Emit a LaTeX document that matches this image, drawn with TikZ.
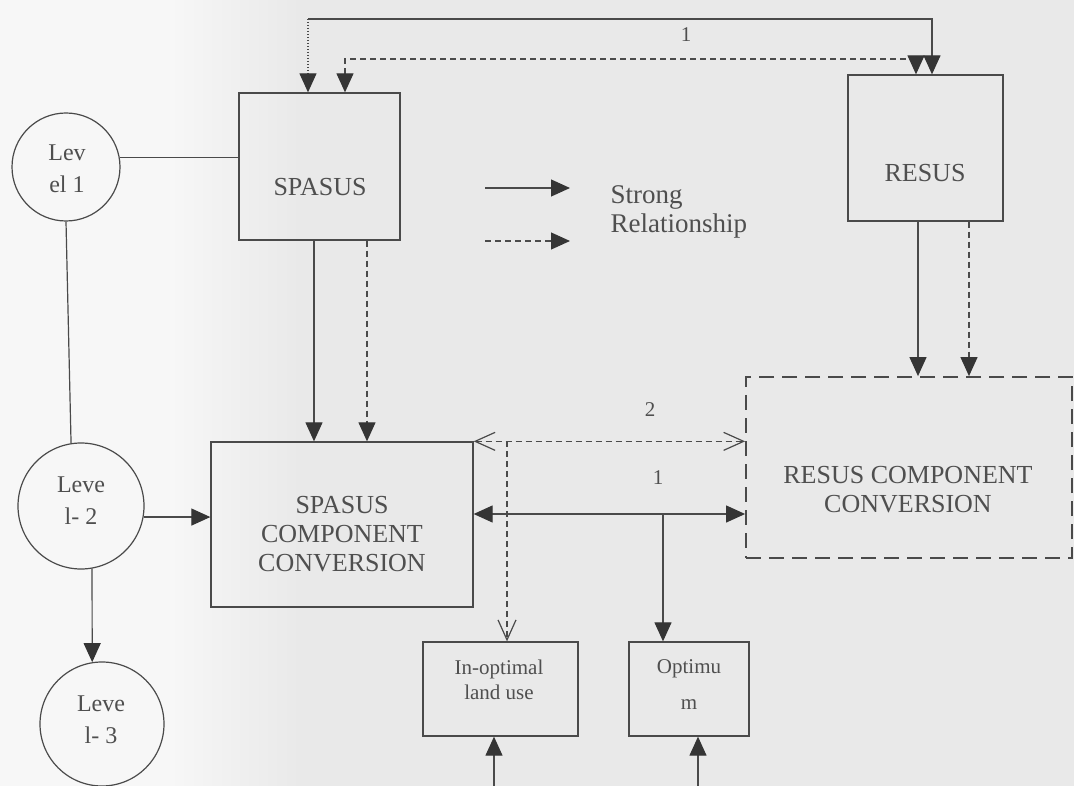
\documentclass[tikz,border=0pt]{standalone}
\usepackage{fontspec}
\setmainfont{Liberation Serif}
\usetikzlibrary{arrows.meta}
\definecolor{ink}{HTML}{4A4A4A}
\definecolor{tipc}{HTML}{353535}
\definecolor{txt}{HTML}{4F4F4F}
\definecolor{paper}{HTML}{E9E9E9}
\definecolor{paperL}{HTML}{F7F7F7}
\begin{document}
\begin{tikzpicture}[x=1pt,y=-1pt,
  line width=1.2pt, draw=ink,
  tri/.tip={Triangle[length=19pt,width=17pt,color=tipc]},
  barb/.tip={Straight Barb[length=20pt,width=18pt,line width=1.2pt]},
  box/.style={draw=ink,line width=1.3pt,inner sep=0pt},
  dbox/.style={draw=ink,line width=1.8pt,inner sep=0pt,dash pattern=on 15pt off 8pt},
  lvl/.style={draw=ink,circle,line width=1.2pt,inner sep=0pt},
  big/.style={text=txt,font=\fontsize{26}{29}\selectfont,align=center,inner sep=0pt},
  lvltxt/.style={text=txt,font=\fontsize{24}{32}\selectfont,align=center,inner sep=0pt},
  small/.style={text=txt,font=\fontsize{21}{25}\selectfont,align=center,inner sep=0pt},
  num/.style={text=txt,font=\fontsize{21}{24}\selectfont,inner sep=0pt},
  dsh/.style={dash pattern=on 6pt off 4pt},
  ddot/.style={dash pattern=on 1.2pt off 1.8pt}]

\useasboundingbox (0,0) rectangle (1074,786);
% paper
\fill[paper] (0,0) rectangle (1074,786);
\fill[paperL] (0,0) rectangle (170,786);
\shade[left color=paperL,right color=paper] (170,0) rectangle (300,786);

% level circles
\node[lvl,minimum size=108pt] (c1) at (66,167) {};
\node[lvltxt] (c1t) at (67,169) {Lev\\el 1};
\node[lvl,minimum size=126pt] (c2) at (81,506) {};
\node[lvltxt] (c2t) at (81,501) {Leve\\l- 2};
\node[lvl,minimum size=124pt] (c3) at (102,724) {};
\node[lvltxt] (c3t) at (101,720) {Leve\\l- 3};

% boxes
\node[box,minimum width=161pt,minimum height=147pt] (sp) at (319.5,166.5) {};
\node[big] (spt) at (320,187) {SPASUS};
\node[box,minimum width=155pt,minimum height=146pt] (re) at (925.5,148) {};
\node[big] (ret) at (925,173) {RESUS};
\node[box,minimum width=262pt,minimum height=165pt] (sc) at (342,524.5) {};
\node[big] (sct) at (342,534) {SPASUS\\COMPONENT\\CONVERSION};
\node[dbox,minimum width=326pt,minimum height=181pt] (rc) at (909,467.5) {};
\node[big] (rct) at (908,490) {RESUS COMPONENT\\CONVERSION};
\node[box,minimum width=155pt,minimum height=94pt] (io) at (500.5,689) {};
\node[small] (iot) at (499,680) {In-optimal\\land use};
\node[box,minimum width=120pt,minimum height=94pt] (op) at (689,689) {};
\node[small,font=\fontsize{21}{36}\selectfont] (opt) at (689,685) {Optimu\\m};

% level links
\draw (c1.10) -- (c1.10 -| sp.west);
\draw (c1.south) -- (c2.99);
\draw[-{tri}] (c2.-10) -- (c2.-10 -| sc.west);
\draw[-{tri}] (c2.-80) -- (c3.99);

% top links between SPASUS and RESUS
\coordinate (tl) at (308,19);
\coordinate (tr) at (932,19);
\draw[-{tri}] (tl) -- (tr) -- (tr |- re.north);
\draw[ddot,-{tri}] (tl) -- (tl |- sp.north);
\node[num] (n1a) at (686,35) {1};
\coordinate (dl) at (345,59);
\coordinate (dr) at (916,59);
\draw[dsh,{tri}-{tri}] (dl |- sp.north) -- (dl) -- (dr) -- (dr |- re.north);

% downward links
\draw[-{tri}] (314,0 |- sp.south) -- (314,0 |- sc.north);
\draw[dsh,-{tri}] (367,0 |- sp.south) -- (367,0 |- sc.north);
\draw[-{tri}] (918,0 |- re.south) -- (918,0 |- rc.north);
\draw[dsh,-{tri}] (969,0 |- re.south) -- (969,0 |- rc.north);

% relationship 2 (dashed)
\coordinate (j2) at (507,0 |- sc.north east);
\draw[dsh,{barb}-{barb}] (sc.north east) -- (sc.north east -| rc.west);
\draw[dsh,-{barb}] (j2) -- (j2 |- io.north);
\node[num] (n2) at (650,410) {2};

% relationship 1 (solid)
\coordinate (l1) at (sc.east |- 0,514);
\coordinate (j1) at (663,514);
\draw[{tri}-{tri}] (l1) -- (l1 -| rc.west);
\draw[-{tri}] (j1) -- (j1 |- op.north);
\node[num] (n1b) at (658,478) {1};

% inputs from below
\coordinate (b1) at (494,786);
\coordinate (b2) at (698,786);
\draw[-{tri}] (b1) -- (b1 |- io.south);
\draw[-{tri}] (b2) -- (b2 |- op.south);

% legend
\coordinate (ls0) at (485,188);
\coordinate (ls1) at (570,188);
\coordinate (ld0) at (485,241);
\coordinate (ld1) at (570,241);
\draw[-{tri}] (ls0) -- (ls1);
\draw[dsh,-{tri}] (ld0) -- (ld1);
\node[big,align=left,anchor=west,font=\fontsize{27}{29}\selectfont] (leg) at (610,212) {Strong\\Relationship};
\end{tikzpicture}
\end{document}
